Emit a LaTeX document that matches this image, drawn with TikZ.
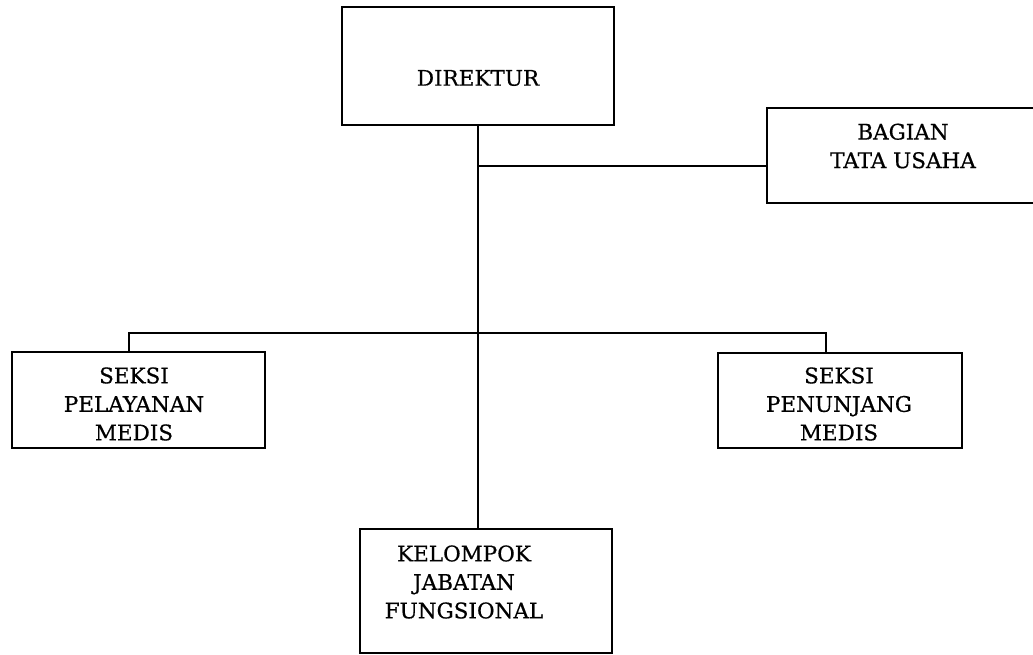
\documentclass[tikz,border=0pt]{standalone}
\usepackage{fontspec}
\setmainfont{DejaVu Serif}[FakeBold=0.6]
\begin{document}
\begin{tikzpicture}[x=1pt,y=-1pt,
  box/.style={draw, line width=2.2pt, rectangle, inner sep=0pt, outer sep=0pt},
  conn/.style={line width=2.2pt},
  lbl/.style={align=center, font=\fontsize{21.5}{28.5}\selectfont, inner sep=0pt}]
\useasboundingbox (0,0) rectangle (1033,655);
\clip (0,0) rectangle (1033,655);
\fill[white] (0,0) rectangle (1033,655);
% boxes
\node[box, minimum width=272pt, minimum height=118pt] (dir) at (478,66) {};
\node[box, minimum width=274pt, minimum height=95pt] (bag) at (904,155.5) {};
\node[box, minimum width=253pt, minimum height=96pt] (pel) at (138.5,400) {};
\node[box, minimum width=244pt, minimum height=95pt] (pen) at (840,400.5) {};
\node[box, minimum width=252pt, minimum height=124pt] (kel) at (486,591) {};
% labels
\node[lbl] (tdir) at (478,78) {DIREKTUR};
\node[lbl] (tbag) at (903,146) {BAGIAN\\TATA USAHA};
\node[lbl] (tpel) at (134,404) {SEKSI\\PELAYANAN\\MEDIS};
\node[lbl] (tpen) at (839,404) {SEKSI\\PENUNJANG\\MEDIS};
\node[lbl] (tkel) at (464,582) {KELOMPOK\\JABATAN\\FUNGSIONAL};
% connectors
\coordinate (j1) at (478,166);
\coordinate (hl) at (129,333);
\coordinate (hr) at (826,333);
\draw[conn] (dir.south) -- (dir.south |- kel.north);
\draw[conn] (j1) -- (j1 -| bag.west);
\draw[conn] (hl |- pel.north) -- (hl) -- (hr) -- (hr |- pen.north);
\end{tikzpicture}
\end{document}
